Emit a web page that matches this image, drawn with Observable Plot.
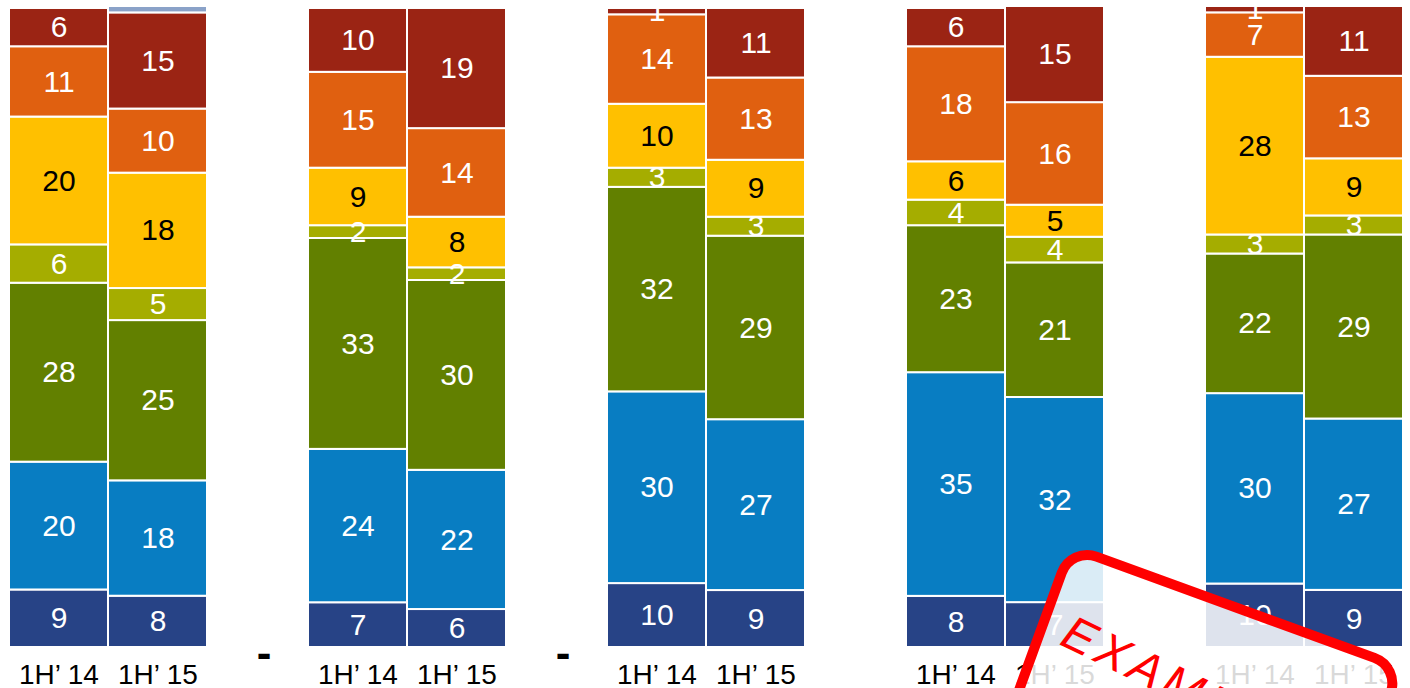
<!DOCTYPE html>
<html>
<head>
<meta charset="utf-8">
<script src="https://cdn.jsdelivr.net/npm/d3@7"></script>
<script src="https://cdn.jsdelivr.net/npm/@observablehq/plot@0.6"></script>
<style>
html, body { margin: 0; padding: 0; overflow: hidden; background: #fff; }
#wrap { position: relative; width: 1410px; height: 688px; }
.stamp {
  position: absolute; left: 1068px; top: 541px; width: 360px; height: 200px;
  box-sizing: border-box; border: 10px solid #ff0000; border-radius: 32px;
  background: rgba(255,255,255,0.85);
  transform-origin: 0 0; transform: rotate(20deg);
}
.stamp span {
  position: absolute; left: 16px; top: 50px;
  font: italic 48px "Liberation Sans", Arial, sans-serif; color: #ff0000;
  letter-spacing: 5px; line-height: 48px; white-space: nowrap;
  transform-origin: 0 40px; transform: rotate(6deg);
}
</style>
</head>
<body>
<div id="wrap"></div>
<script>
// ---- data ----
const groups = ["A", "B", "C", "D", "E"];
const periods = ["1H\u2019 14", "1H\u2019 15"];
const seriesNames = ["Navy", "Blue", "Green", "Olive", "Yellow", "Orange", "Red", "Other"];
const seriesColors = ["#274386", "#087dc2", "#628000", "#a5ad00", "#ffc000", "#e06010", "#9b2414", "#8aa2c8"];
// values in order: A-14, A-15, B-14, B-15, C-14, C-15, D-14, D-15, E-14, E-15
const navy   = [9, 8, 7, 6, 10, 9, 8, 7, 10, 9];
const blue   = [20, 18, 24, 22, 30, 27, 35, 32, 30, 27];
const green  = [28, 25, 33, 30, 32, 29, 23, 21, 22, 29];
const olive  = [6, 5, 2, 2, 3, 3, 4, 4, 3, 3];
const yellow = [20, 18, 9, 8, 10, 9, 6, 5, 28, 9];
const orange = [11, 10, 15, 14, 14, 13, 18, 16, 7, 13];
const red    = [6, 15, 10, 19, 1, 11, 6, 15, 1, 11];
const other  = [0.3, 1, 0.3, 0.3, 0.3, 0.3, 0.3, 0, 0, 0];
const dashGroups = ["A", "B"];

const seriesValues = [navy, blue, green, olive, yellow, orange, red, other];
const rows = [];
groups.forEach((g, gi) => {
  periods.forEach((p, pi) => {
    seriesNames.forEach((s, si) => {
      rows.push({group: g, period: p, series: s, value: seriesValues[si][gi * 2 + pi]});
    });
  });
});

const chart = Plot.plot({
  width: 1410,
  height: 688,
  marginTop: 6,
  marginBottom: 41,
  marginLeft: 8,
  marginRight: 6,
  style: {fontFamily: "'Liberation Sans', Arial, sans-serif", fontSize: "28px", background: "white", color: "black"},
  fx: {domain: groups, paddingInner: 1 / 3, paddingOuter: 0, axis: null, label: null},
  x: {domain: periods, padding: 0, label: null, tickSize: 0, tickPadding: 17},
  y: {domain: [0, 1], axis: null},
  color: {domain: seriesNames, range: seriesColors},
  marks: [
    Plot.barY(rows, Plot.stackY({
      offset: "normalize", fx: "group", x: "period", y: "value", z: "series",
      fill: "series", stroke: "white", strokeWidth: 2
    })),
    Plot.text(rows, Plot.stackY({
      offset: "normalize", fx: "group", x: "period", y: "value", z: "series",
      text: d => d.series === "Other" ? null : String(d.value),
      fill: d => d.series === "Yellow" ? "black" : "white",
      fontSize: 30
    })),
    Plot.text(dashGroups, {
      fx: d => d, x: () => periods[1], frameAnchor: "bottom",
      text: () => "-", dx: 106, dy: 20, fontSize: 44, fontWeight: "bold", fill: "black"
    })
  ]
});

const wrap = document.getElementById("wrap");
wrap.appendChild(chart);
const stamp = document.createElement("div");
stamp.className = "stamp";
const st = document.createElement("span");
st.textContent = "EXAMPLE";
stamp.appendChild(st);
wrap.appendChild(stamp);
</script>
</body>
</html>
